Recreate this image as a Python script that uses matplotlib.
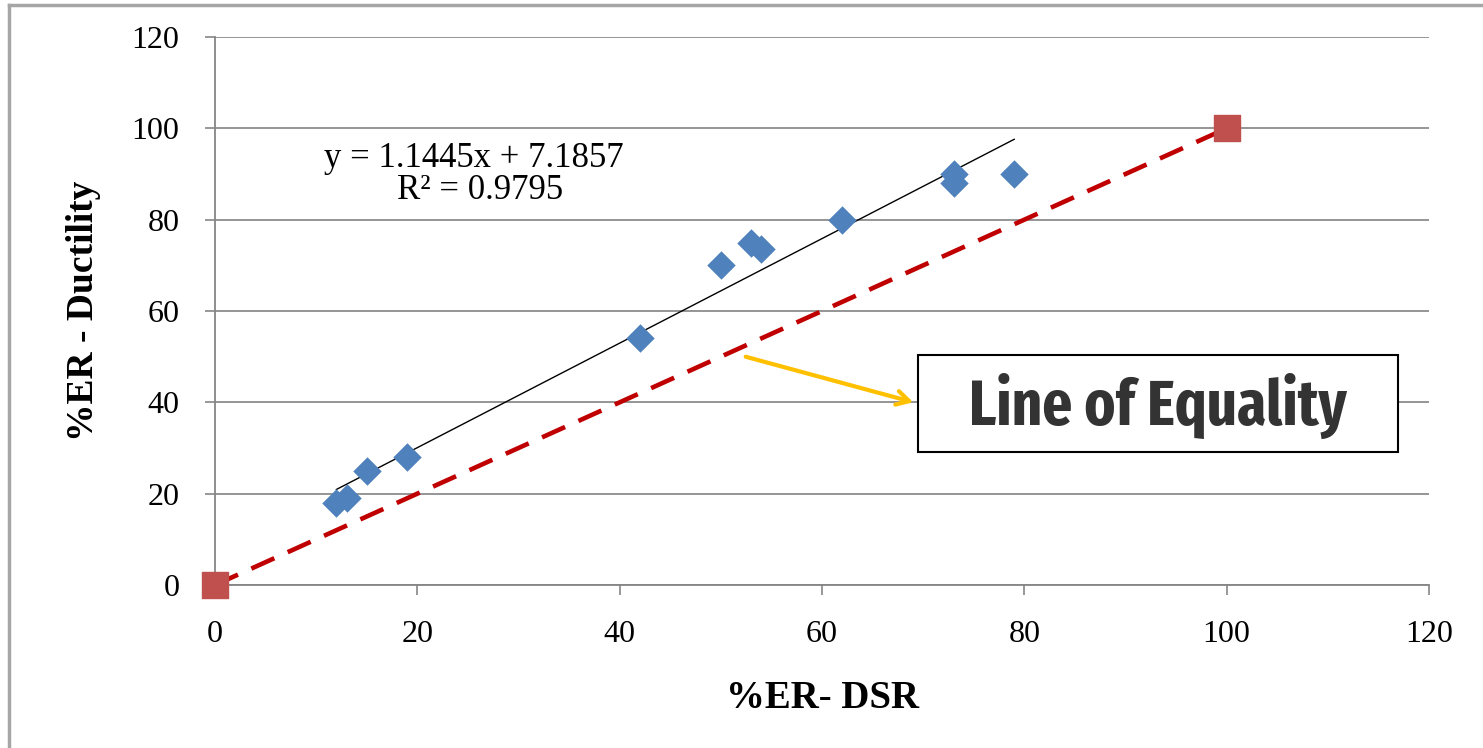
import os
import matplotlib
matplotlib.use("Agg")
import matplotlib.pyplot as plt
from matplotlib import font_manager as fm
from matplotlib.lines import Line2D
import numpy as np

# Measured recovery: DSR vs. ductility
er_dsr = [12, 13, 15, 19, 42, 50, 53, 54, 62, 73, 73, 79]
er_ductility = [18, 19, 25, 28, 54, 70, 75, 73.5, 80, 90, 88, 90]

# Line of equality end points
equal_x = [0, 100]
equal_y = [0, 100]

# Linear fit reported for the data
slope = 1.1445
intercept = 7.1857
r_squared = 0.9795

x_ticks = [0, 20, 40, 60, 80, 100, 120]
y_ticks = [0, 20, 40, 60, 80, 100, 120]


def narrow_bold_font():
    """Find a condensed bold sans face for the callout label."""
    files = sorted({f.fname for f in fm.fontManager.ttflist})

    def find(keys, excl):
        for p in files:
            b = os.path.basename(p).lower()
            if all(k in b for k in keys) and not any(e in b for e in excl):
                return p
        return None

    common = ("italic", "oblique", "serif", "mono")
    for keys, excl in [(("extracondensed", "bold"), ("semibold", "extrabold") + common),
                       (("condensed", "bold"), ("semi", "extra") + common),
                       (("narrow", "bold"), common)]:
        p = find(keys, excl)
        if p:
            return fm.FontProperties(fname=p)
    return fm.FontProperties(family="DejaVu Sans", weight="bold")


W, H = 1483, 748
fig = plt.figure(figsize=(W / 100, H / 100), dpi=100)
fig.patch.set_facecolor("white")

ax = fig.add_axes([215 / W, 1 - 585 / H, (1429 - 215) / W, (585 - 37) / H])
ax.set_xlim(0, 120)
ax.set_ylim(0, 120)
ax.set_xticks(x_ticks)
ax.set_yticks(y_ticks)

serif = ["Liberation Serif", "DejaVu Serif"]
for lab in ax.get_xticklabels() + ax.get_yticklabels():
    lab.set_fontfamily(serif)
    lab.set_fontsize(23)
ax.tick_params(axis="both", direction="out", length=7.5, width=1.2,
               color="#868686", labelcolor="black")
ax.tick_params(axis="x", pad=18)
ax.tick_params(axis="y", pad=18)

ax.yaxis.grid(True, color="#8c8c8c", linewidth=1.3)
ax.set_axisbelow(True)
for side in ["top", "right"]:
    ax.spines[side].set_visible(False)
for side in ["left", "bottom"]:
    ax.spines[side].set_color("#868686")
    ax.spines[side].set_linewidth(1.3)

# Trend line over the range of the data
fx = np.array([min(er_dsr), max(er_dsr)])
ax.plot(fx, slope * fx + intercept, color="black", linewidth=1.0, zorder=3)

# Line of equality
ax.plot(equal_x, equal_y, color="#C00000", linewidth=3.3,
        dashes=(5.5, 3.2), zorder=3)
ax.scatter(equal_x, equal_y, marker="s", s=360, color="#C0504D",
           zorder=5, clip_on=False)

# Data points
ax.scatter(er_dsr, er_ductility, marker="D", s=210, color="#4F81BD",
           zorder=4, linewidths=0)

# Fit annotation
ax.text(0.2133, 0.779, f"y = {slope}x + {intercept}", transform=ax.transAxes,
        fontfamily=serif, fontsize=25, ha="center", va="center")
ax.text(0.218, 0.719, f"R² = {r_squared}", transform=ax.transAxes,
        fontfamily=serif, fontsize=25, ha="center", va="center")

ax.set_xlabel("%ER- DSR", fontfamily=serif, fontsize=28, fontweight="bold",
              labelpad=22)
ax.set_ylabel("%ER - Ductility", fontfamily=serif, fontsize=27,
              fontweight="bold", labelpad=22)

# Callout box and arrow
box_l, box_r, box_t, box_b = 918, 1398, 355, 452
fig.patches.append(plt.Rectangle((box_l / W, 1 - box_b / H),
                                 (box_r - box_l) / W, (box_b - box_t) / H,
                                 transform=fig.transFigure, facecolor="white",
                                 edgecolor="black", linewidth=1.5, zorder=10))
fig.text((box_l + box_r) / 2 / W, 1 - 406 / H, "Line of Equality",
         fontproperties=narrow_bold_font(), fontsize=46, color="#333333",
         ha="center", va="center", zorder=11)
ax.annotate("", xy=(916 / W, 1 - 403 / H), xycoords="figure fraction",
            xytext=(743 / W, 1 - 356 / H), textcoords="figure fraction",
            arrowprops=dict(arrowstyle="->,head_length=0.9,head_width=0.5",
                            color="#FFC000", linewidth=3),
            annotation_clip=False)

# Frame lines on the left and top edges
fig.add_artist(Line2D([9 / W, 9 / W], [0, 1 - 5 / H], color="#a6a6a6",
                      linewidth=2.5, transform=fig.transFigure))
fig.add_artist(Line2D([9 / W, 1], [1 - 5 / H, 1 - 5 / H], color="#a6a6a6",
                      linewidth=2.5, transform=fig.transFigure))

fig.savefig("out.png", dpi=100, facecolor="white")
